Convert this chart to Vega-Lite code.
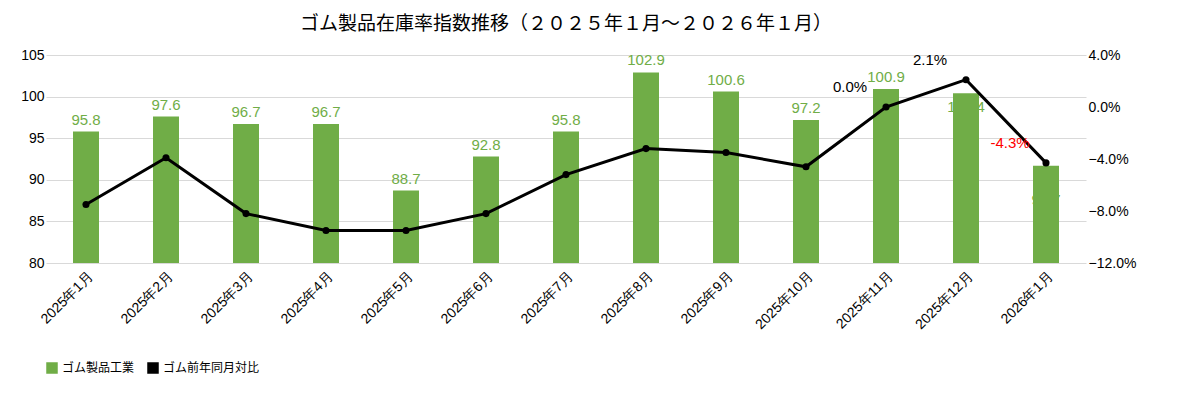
{
  "$schema": "https://vega.github.io/schema/vega-lite/v6.json",
  "width": 1040,
  "height": 208,
  "padding": {"left": 20, "top": 15, "right": 20, "bottom": 10},
  "background": "white",
  "config": {
    "font": "Noto Sans CJK JP",
    "view": {"stroke": null},
    "axis": {"labelFont": "Liberation Sans", "labelFontSize": 14, "labelColor": "#000", "domain": false, "ticks": false, "grid": false, "labelLimit": 200}
  },
  "title": {"text": "ゴム製品在庫率指数推移（２０２５年１月～２０２６年１月）", "fontSize": 19, "fontWeight": "normal", "color": "#000", "font": "Noto Sans CJK JP", "offset": 14},
  "data": {"values": [
    {"m": "2025年1月", "idx": 95.8, "yoy": -0.075},
    {"m": "2025年2月", "idx": 97.6, "yoy": -0.039},
    {"m": "2025年3月", "idx": 96.7, "yoy": -0.082},
    {"m": "2025年4月", "idx": 96.7, "yoy": -0.095},
    {"m": "2025年5月", "idx": 88.7, "yoy": -0.095},
    {"m": "2025年6月", "idx": 92.8, "yoy": -0.082},
    {"m": "2025年7月", "idx": 95.8, "yoy": -0.052},
    {"m": "2025年8月", "idx": 102.9, "yoy": -0.032},
    {"m": "2025年9月", "idx": 100.6, "yoy": -0.035},
    {"m": "2025年10月", "idx": 97.2, "yoy": -0.046},
    {"m": "2025年11月", "idx": 100.9, "yoy": 0.0, "lab": "0.0%"},
    {"m": "2025年12月", "idx": 100.4, "yoy": 0.021, "lab": "2.1%"},
    {"m": "2026年1月", "idx": 91.7, "yoy": -0.043, "lab": "-4.3%"}
  ]},
  "encoding": {
    "x": {"field": "m", "type": "ordinal", "sort": null, "title": null,
      "axis": {"labelAngle": -45, "labelPadding": 6}}
  },
  "layer": [
    {
      "layer": [
        {"mark": {"type": "bar", "width": 26, "color": "#70ad47", "clip": true},
         "encoding": {
           "y": {"field": "idx", "type": "quantitative", "scale": {"domain": [80, 105]}, "title": null,
             "axis": {"values": [80, 85, 90, 95, 100, 105], "grid": true, "gridColor": "#d9d9d9"}},
           "color": {"datum": "ゴム製品工業", "type": "nominal", "scale": {"domain": ["ゴム製品工業", "ゴム前年同月対比"], "range": ["#70ad47", "#000000"]},
             "legend": {"orient": "bottom", "direction": "horizontal", "title": null, "labelFontSize": 12, "symbolType": "square", "offset": 30}}
         }},
        {"mark": {"type": "text", "dy": -12, "fontSize": 15, "color": "#70ad47", "font": "Liberation Sans"},
         "transform": [{"filter": "datum.m != '2025年12月' && datum.m != '2026年1月'"}],
         "encoding": {
           "y": {"field": "idx", "type": "quantitative", "scale": {"domain": [80, 105]}},
           "text": {"field": "idx", "type": "quantitative", "format": ".1f"}
         }},
        {"mark": {"type": "text", "dy": 14, "fontSize": 15, "color": "#70ad47", "font": "Liberation Sans"},
         "transform": [{"filter": "datum.m == '2025年12月'"}],
         "encoding": {
           "y": {"field": "idx", "type": "quantitative", "scale": {"domain": [80, 105]}},
           "text": {"field": "idx", "type": "quantitative", "format": ".1f"}
         }},
        {"mark": {"type": "text", "dy": 34, "fontSize": 15, "color": "#70ad47", "font": "Liberation Sans"},
         "transform": [{"filter": "datum.m == '2026年1月'"}],
         "encoding": {
           "y": {"field": "idx", "type": "quantitative", "scale": {"domain": [80, 105]}},
           "text": {"field": "idx", "type": "quantitative", "format": ".1f"}
         }}
      ]
    },
    {
      "layer": [
        {"mark": {"type": "line", "color": "#000", "strokeWidth": 3, "point": {"filled": true, "size": 50, "color": "#000"}},
         "encoding": {
           "y": {"field": "yoy", "type": "quantitative", "scale": {"domain": [-0.12, 0.04]}, "title": null,
             "axis": {"orient": "right", "format": ".1%", "values": [-0.12, -0.10, -0.08, -0.06, -0.04, -0.02, 0, 0.02, 0.04]}},
           "color": {"datum": "ゴム前年同月対比", "type": "nominal"}
         }},
        {"mark": {"type": "text", "fontSize": 15, "color": "#000", "font": "Liberation Sans"},
         "transform": [{"filter": "datum.lab"}],
         "encoding": {
           "y": {"field": "yoy", "type": "quantitative", "scale": {"domain": [-0.12, 0.04]}},
           "yOffset": {"condition": {"test": "datum.yoy == 0", "value": 20}, "value": -20},
           "xOffset": {"condition": {"test": "datum.yoy < -0.01", "value": 10}, "value": 0},
           "text": {"field": "lab"},
           "color": {"condition": {"test": "datum.yoy < -0.01", "value": "#ff0000"}, "value": "#000"}
         }}
      ]
    }
  ],
  "resolve": {"scale": {"y": "independent", "color": "shared"}, "axis": {"y": "independent"}}
}
